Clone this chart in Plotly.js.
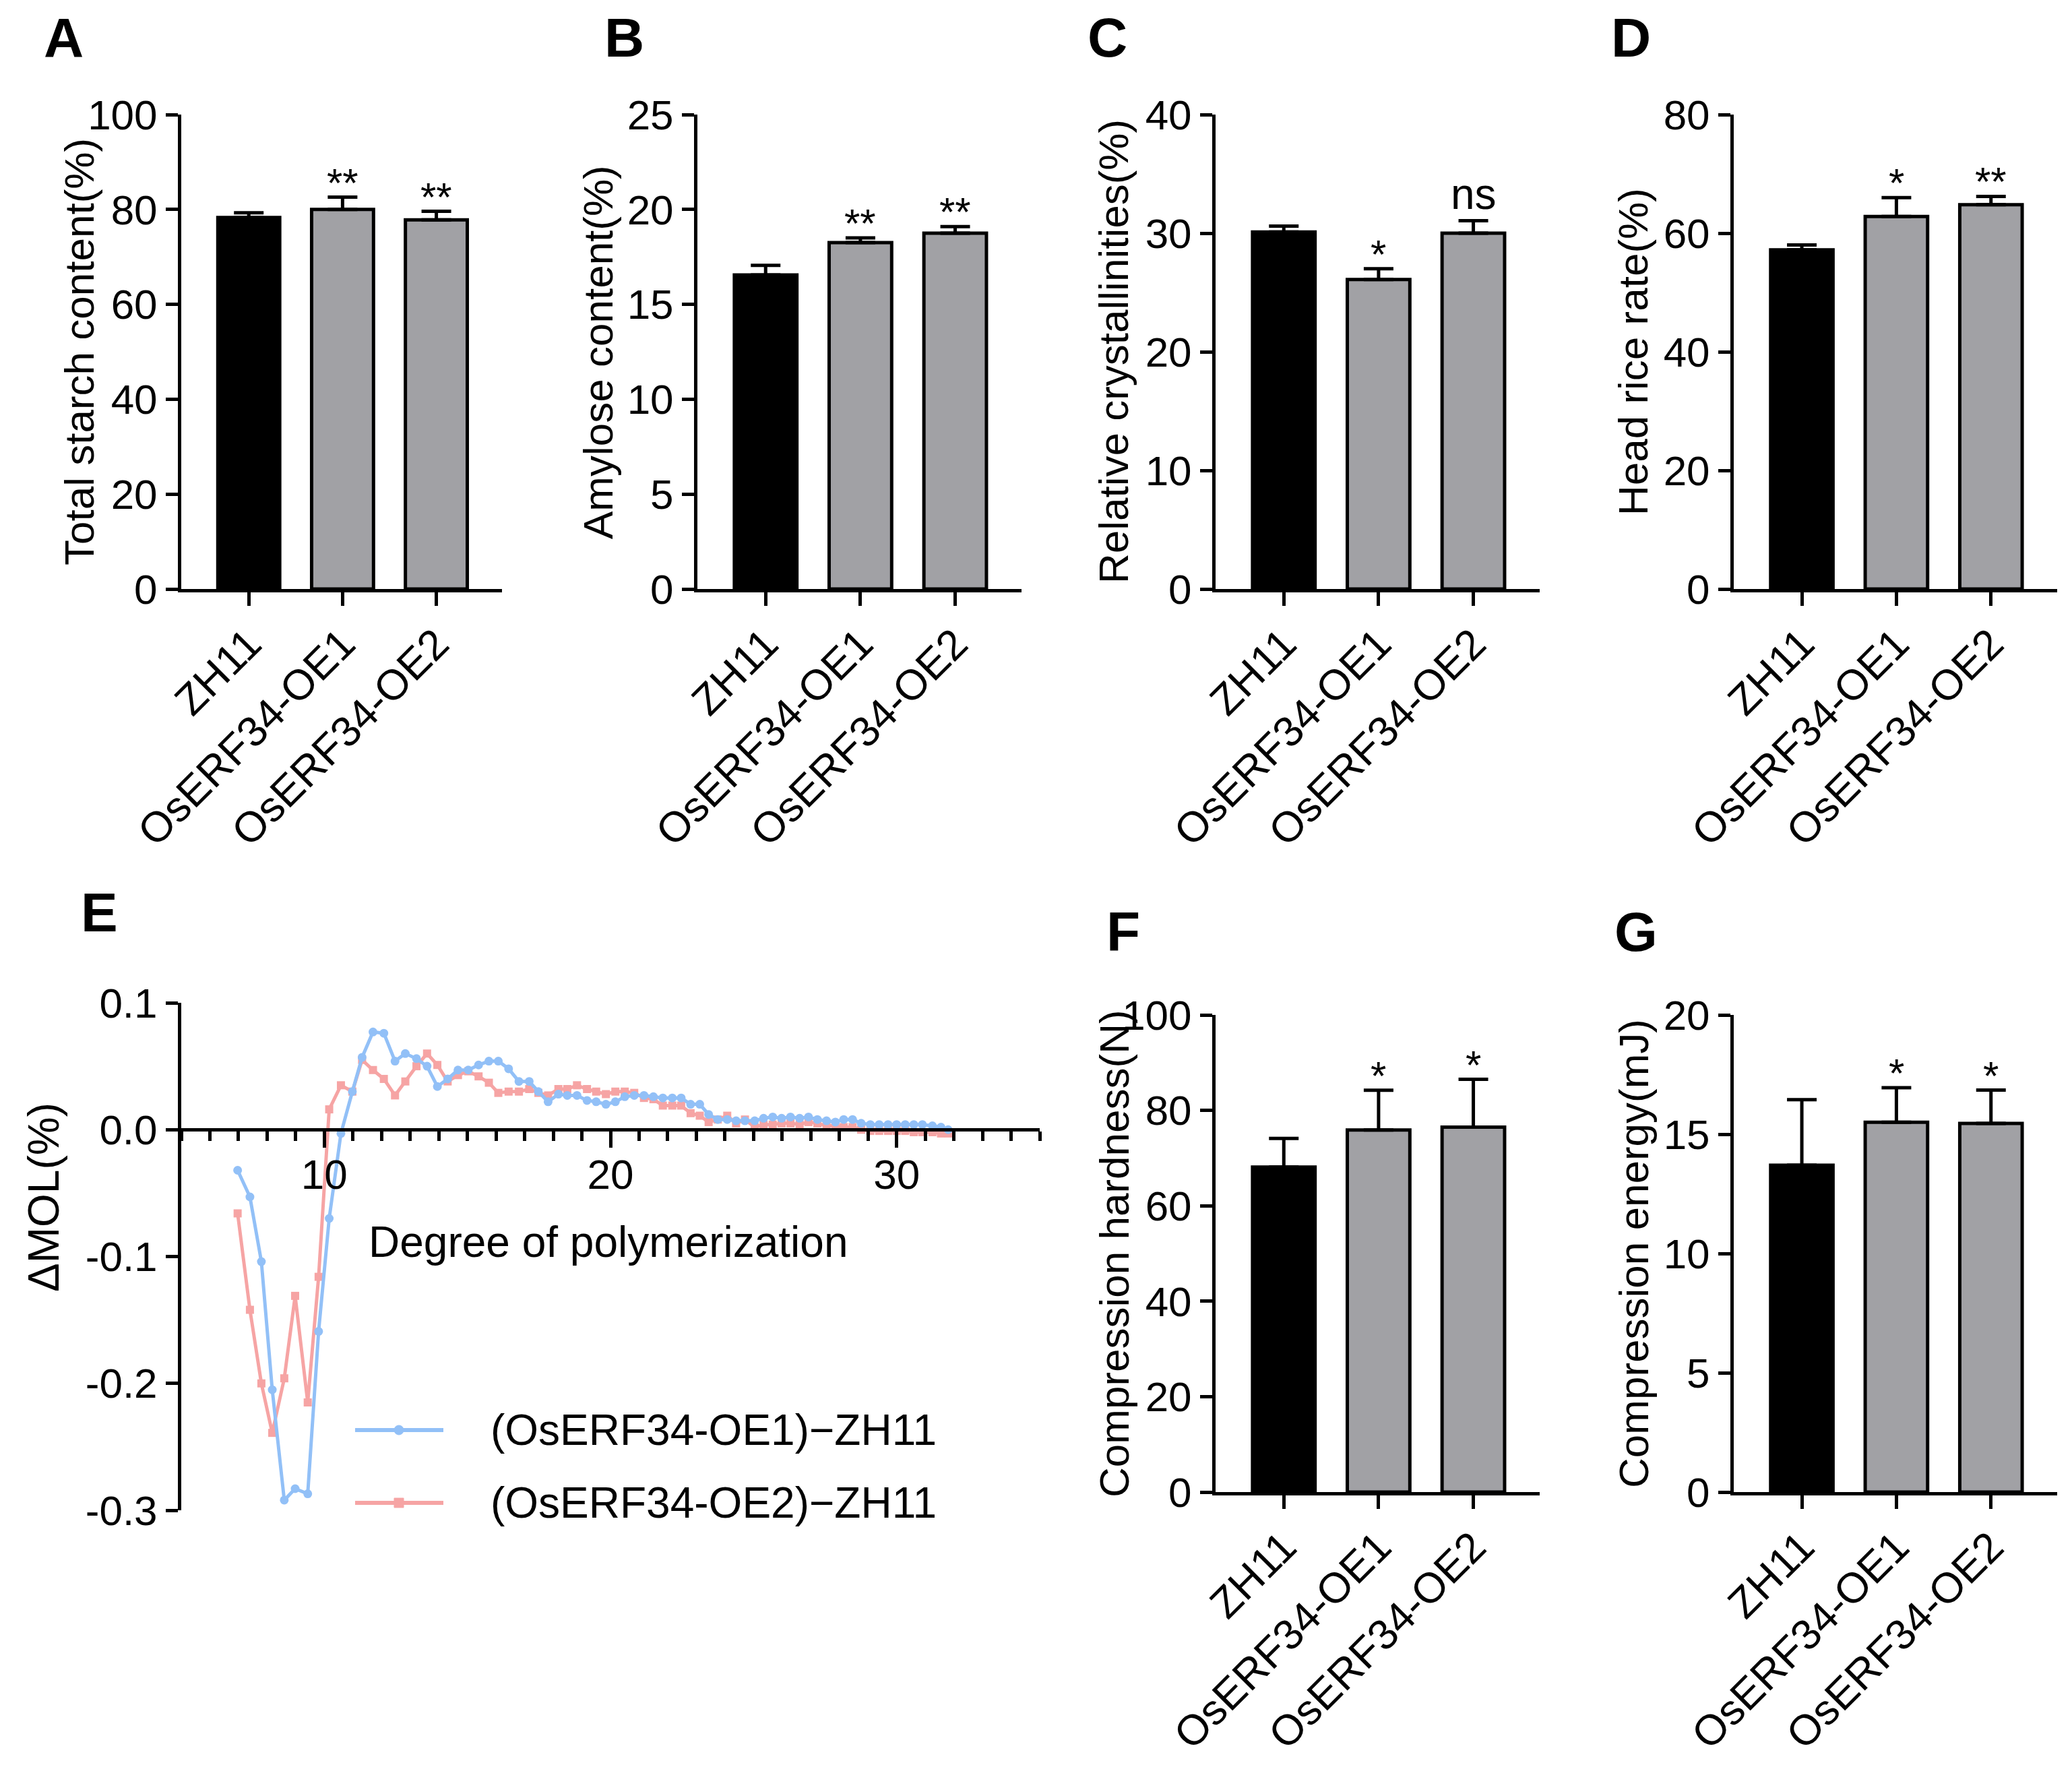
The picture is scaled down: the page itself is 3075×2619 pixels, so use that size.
<!DOCTYPE html>
<html>
<head>
<meta charset="utf-8">
<script src="https://cdn.plot.ly/plotly-3.0.1.min.js"></script>
<style>
  html, body { margin: 0; padding: 0; background: #fff; }
  #plot { width: 3075px; height: 2619px; }
</style>
</head>
<body>
<div id="plot"></div>
<script>
// groups shared by all bar panels
const groups = ['ZH11', 'OsERF34-OE1', 'OsERF34-OE2'];

const starch = [78.3, 80.0, 77.8];
const starchErr = [1.0, 2.6, 1.8];
const starchSig = ['', '**', '**'];

const amylose = [16.55, 18.25, 18.75];
const amyloseErr = [0.5, 0.25, 0.35];
const amyloseSig = ['', '**', '**'];

const crystal = [30.1, 26.1, 30.0];
const crystalErr = [0.5, 0.9, 1.05];
const crystalSig = ['', '*', 'ns'];

const headRice = [57.2, 62.8, 64.8];
const headRiceErr = [0.8, 3.2, 1.4];
const headRiceSig = ['', '*', '**'];

const hardness = [68.1, 75.9, 76.5];
const hardnessErr = [6.0, 8.3, 10.0];
const hardnessSig = ['', '*', '*'];

const energy = [13.7, 15.5, 15.45];
const energyErr = [2.75, 1.45, 1.4];
const energySig = ['', '*', '*'];

// panel E: degree of polymerization and difference in molar percentage
const dp = [6.97, 7.4, 7.8, 8.18, 8.6, 8.98, 9.42, 9.8, 10.17, 10.58,
  10.98, 11.32, 11.7, 12.08, 12.47, 12.83, 13.22, 13.59, 13.95, 14.31,
  14.67, 15.03, 15.39, 15.75, 16.08, 16.44, 16.8, 17.16, 17.48, 17.82,
  18.18, 18.49, 18.83, 19.18, 19.5, 19.84, 20.17, 20.5, 20.83, 21.17,
  21.5, 21.83, 22.16, 22.47, 22.8, 23.12, 23.43, 23.75, 24.08, 24.39,
  24.7, 25.04, 25.35, 25.67, 25.98, 26.29, 26.61, 26.92, 27.23, 27.55,
  27.86, 28.15, 28.46, 28.76, 29.08, 29.39, 29.7, 30.0, 30.3, 30.6,
  30.9, 31.25, 31.55, 31.8];

const diffOE1 = [-0.032, -0.053, -0.104, -0.205, -0.292, -0.283, -0.287, -0.159, -0.070, -0.003,
  0.030, 0.057, 0.077, 0.076, 0.054, 0.060, 0.056, 0.050, 0.034, 0.040,
  0.047, 0.047, 0.051, 0.054, 0.054, 0.048, 0.038, 0.038, 0.030, 0.022,
  0.028, 0.027, 0.027, 0.023, 0.022, 0.020, 0.022, 0.026, 0.027, 0.027,
  0.026, 0.025, 0.025, 0.025, 0.020, 0.020, 0.012, 0.008, 0.008, 0.007,
  0.007, 0.007, 0.009, 0.010, 0.009, 0.010, 0.009, 0.010, 0.008, 0.007,
  0.006, 0.008, 0.008, 0.005, 0.004, 0.004, 0.004, 0.004, 0.004, 0.004,
  0.004, 0.003, 0.002, 0.000];

const diffOE2 = [-0.066, -0.142, -0.200, -0.239, -0.196, -0.131, -0.215, -0.116, 0.016, 0.035,
  0.030, 0.055, 0.047, 0.040, 0.027, 0.038, 0.050, 0.060, 0.051, 0.038,
  0.043, 0.046, 0.042, 0.037, 0.029, 0.030, 0.030, 0.032, 0.029, 0.027,
  0.032, 0.032, 0.035, 0.032, 0.030, 0.028, 0.030, 0.030, 0.029, 0.025,
  0.024, 0.019, 0.019, 0.019, 0.013, 0.011, 0.006, 0.008, 0.011, 0.005,
  0.008, 0.002, 0.004, 0.004, 0.005, 0.005, 0.004, 0.006, 0.005, 0.003,
  0.003, 0.002, 0.002, 0.000, -0.001, -0.001, -0.001, -0.001, -0.001, -0.002,
  -0.002, -0.002, -0.003, -0.003];

const eTickVals = [0.1, 0, -0.1, -0.2, -0.3];
const eTickText = ['0.1', '0.0', '-0.1', '-0.2', '-0.3'];
const dpTicks = [10, 20, 30];

const W = 3075, H = 2619;
const FONT = 'Liberation Sans, Arial, sans-serif';
const GREY = '#a1a1a5';
const BLUE = '#92c0f7';
const PINK = '#f6a4a4';

// pixel helpers -> paper fractions
const px = (v) => v / W;
const py = (v) => 1 - v / H;

const traces = [];
const layout = {
  width: W,
  height: H,
  margin: { l: 0, r: 0, t: 0, b: 0 },
  paper_bgcolor: '#fff',
  plot_bgcolor: 'rgba(0,0,0,0)',
  font: { family: FONT, size: 62, color: '#000' },
  showlegend: false,
  annotations: [],
  shapes: [],
};

function axisStyle() {
  return {
    showline: true,
    linewidth: 5,
    linecolor: '#000',
    ticks: 'outside',
    ticklen: 18,
    tickwidth: 5,
    tickcolor: '#000',
    showgrid: false,
    zeroline: false,
    fixedrange: true,
  };
}

// one bar panel
function barPanel(n, vals, errs, sig, ymax, dtick, xd, yd, title, titleX) {
  const xa = n === 1 ? 'x' : 'x' + n;
  const ya = n === 1 ? 'y' : 'y' + n;
  traces.push({
    type: 'bar',
    x: groups,
    y: vals,
    xaxis: xa,
    yaxis: ya,
    width: 0.66,
    marker: {
      color: ['#000', GREY, GREY],
      line: { color: '#000', width: 5 },
    },
    error_y: {
      type: 'data',
      symmetric: false,
      array: errs,
      arrayminus: errs.map(() => 0),
      color: '#000',
      thickness: 5,
      width: 22,
    },
    hoverinfo: 'none',
  });
  layout['xaxis' + (n === 1 ? '' : n)] = Object.assign(axisStyle(), {
    domain: [px(xd[0]), px(xd[1])],
    anchor: ya,
    type: 'category',
    range: [-0.72, 2.7],
    tickangle: -45,
    ticklen: 20,
    ticklabelstandoff: -6,
    tickfont: { size: 63 },
  });
  layout['yaxis' + (n === 1 ? '' : n)] = Object.assign(axisStyle(), {
    domain: [py(yd[1]), py(yd[0])],
    anchor: xa,
    range: [0, ymax],
    dtick: dtick,
    tick0: 0,
  });
  sig.forEach((s, i) => {
    if (!s) return;
    layout.annotations.push({
      xref: xa, yref: ya,
      x: groups[i], y: vals[i] + errs[i],
      text: s,
      showarrow: false,
      yanchor: 'bottom',
      yshift: s === 'ns' ? 2 : -14,
      font: { size: s === 'ns' ? 64 : 60 },
    });
  });
  layout.annotations.push({
    xref: 'paper', yref: 'paper',
    x: px(titleX), y: py((yd[0] + yd[1]) / 2),
    text: title,
    textangle: -90,
    showarrow: false,
    xanchor: 'center', yanchor: 'middle',
    font: { size: 62 },
  });
}

const topRow = [170, 874];
const botRow = [1506, 2214];

barPanel(1, starch, starchErr, starchSig, 100, 20, [269, 745], topRow, 'Total starch content(%)', 118);
barPanel(2, amylose, amyloseErr, amyloseSig, 25, 5, [1035, 1516], topRow, 'Amylose content(%)', 888);
barPanel(3, crystal, crystalErr, crystalSig, 40, 10, [1804, 2285], topRow, 'Relative crystallinities(%)', 1653);
barPanel(4, headRice, headRiceErr, headRiceSig, 80, 20, [2573, 3053], topRow, 'Head rice rate(%)', 2424);
barPanel(6, hardness, hardnessErr, hardnessSig, 100, 20, [1804, 2285], botRow, 'Compression hardness(N)', 1653);
barPanel(7, energy, energyErr, energySig, 20, 5, [2573, 3053], botRow, 'Compression energy(mJ)', 2424);

// panel E
const eX = [269, 1543];
const eY = [1488, 2241];
const eRange = [-0.3, 0.1];
const eYDom = [py(eY[1]), py(eY[0])];
const zeroPos = eYDom[0] + (0 - eRange[0]) / (eRange[1] - eRange[0]) * (eYDom[1] - eYDom[0]);

traces.push({
  type: 'scatter',
  mode: 'lines+markers',
  name: '(OsERF34-OE2)\u2212ZH11',
  x: dp, y: diffOE2,
  xaxis: 'x5', yaxis: 'y5',
  line: { color: PINK, width: 5 },
  marker: { color: PINK, size: 12, symbol: 'square' },
  hoverinfo: 'none',
});
traces.push({
  type: 'scatter',
  mode: 'lines+markers',
  name: '(OsERF34-OE1)\u2212ZH11',
  x: dp, y: diffOE1,
  xaxis: 'x5', yaxis: 'y5',
  line: { color: BLUE, width: 5 },
  marker: { color: BLUE, size: 13, symbol: 'circle' },
  hoverinfo: 'none',
});

layout.xaxis5 = Object.assign(axisStyle(), {
  domain: [px(eX[0]), px(eX[1])],
  anchor: 'free',
  position: zeroPos,
  range: [5, 35],
  tickvals: dpTicks,
  ticklen: 24,
  ticklabelstandoff: -14,
  minor: { dtick: 1, tick0: 5, ticks: 'outside', ticklen: 14, tickwidth: 5, tickcolor: '#000' },
});
layout.yaxis5 = Object.assign(axisStyle(), {
  domain: eYDom,
  anchor: 'x5',
  range: eRange,
  tickvals: eTickVals,
  ticktext: eTickText,
});

layout.annotations.push(
  { xref: 'paper', yref: 'paper', x: px(65), y: py(1777), text: '\u0394MOL(%)',
    textangle: -90, showarrow: false, xanchor: 'center', yanchor: 'middle', font: { size: 64 } },
  { xref: 'paper', yref: 'paper', x: px(902), y: py(1843), text: 'Degree of polymerization',
    showarrow: false, xanchor: 'center', yanchor: 'middle', font: { size: 64 } }
);

// legend of panel E
const legendRows = [
  { name: '(OsERF34-OE1)\u2212ZH11', color: BLUE, y: 2122, shape: 'circle' },
  { name: '(OsERF34-OE2)\u2212ZH11', color: PINK, y: 2230, shape: 'rect' },
];
legendRows.forEach((r) => {
  layout.shapes.push({
    type: 'line', xref: 'paper', yref: 'paper',
    x0: px(527), x1: px(658), y0: py(r.y), y1: py(r.y),
    line: { color: r.color, width: 6 },
  });
  layout.shapes.push({
    type: r.shape, xref: 'paper', yref: 'paper',
    x0: px(585), x1: px(599), y0: py(r.y - 7), y1: py(r.y + 7),
    fillcolor: r.color, line: { color: r.color, width: 1 },
  });
  layout.annotations.push({
    xref: 'paper', yref: 'paper', x: px(726), y: py(r.y),
    text: r.name, showarrow: false, xanchor: 'left', yanchor: 'middle',
    font: { size: 64 },
  });
});

// panel letters
const letters = [['A', 94, 55], ['B', 926, 55], ['C', 1643, 55], ['D', 2420, 55],
  ['E', 147, 1353], ['F', 1667, 1382], ['G', 2428, 1382]];
letters.forEach(([t, x, y]) => {
  layout.annotations.push({
    xref: 'paper', yref: 'paper', x: px(x), y: py(y),
    text: '<b>' + t + '</b>', showarrow: false, xanchor: 'center', yanchor: 'middle',
    font: { size: 82 },
  });
});

const config = {
  staticPlot: true,
  displayModeBar: false,
};

Plotly.newPlot('plot', traces, layout, config);
</script>
</body>
</html>
